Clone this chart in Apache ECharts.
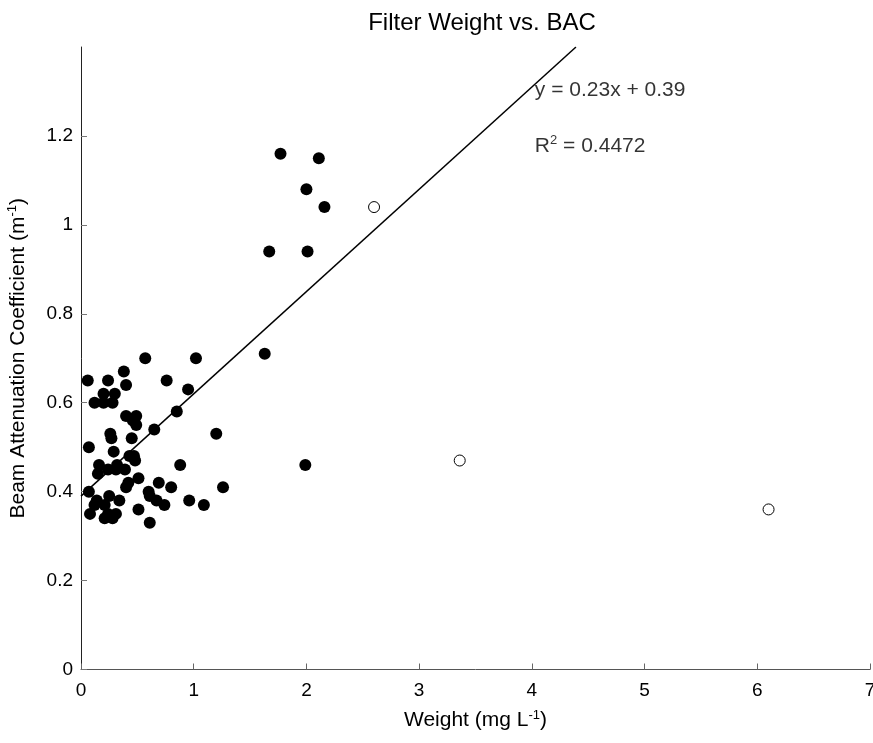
<!DOCTYPE html>
<html>
<head>
<meta charset="utf-8">
<script src="https://cdn.jsdelivr.net/npm/echarts@6/dist/echarts.min.js"></script>
<style>
  html, body { margin: 0; padding: 0; background: #fff; }
  #chart { width: 873px; height: 743px; }
</style>
</head>
<body>
<div id="chart"></div>
<script>
// Filter weight (mg/L) and beam attenuation coefficient (1/m), samples used in the fit
const weight = [
  1.77, 2.11, 2.00, 2.16, 1.67, 2.01, 1.63, 1.99,
  0.57, 1.02, 0.38, 0.06, 0.24, 0.76, 0.40, 0.95,
  0.20, 0.30, 0.12, 0.20, 0.28,
  0.40, 0.49, 0.46, 0.49, 0.85, 0.65,
  0.26, 0.27, 0.45, 1.20, 0.07, 0.29,
  0.43, 0.47, 0.48, 0.16, 0.15, 0.24, 0.32, 0.31, 0.39, 0.88,
  0.51, 0.42, 0.40, 0.69, 0.80, 1.26,
  0.07, 0.25, 0.60, 0.61, 0.14, 0.12, 0.21, 0.34, 0.67, 0.74, 0.96, 1.09,
  0.08, 0.21, 0.24, 0.31, 0.28, 0.51, 0.61
];
const bac = [
  1.16, 1.15, 1.08, 1.04, 0.94, 0.94, 0.71, 0.46,
  0.70, 0.70, 0.67, 0.65, 0.65, 0.65, 0.64, 0.63,
  0.62, 0.62, 0.60, 0.60, 0.60,
  0.57, 0.57, 0.56, 0.55, 0.58, 0.54,
  0.53, 0.52, 0.52, 0.53, 0.50, 0.49,
  0.48, 0.48, 0.47, 0.46, 0.44, 0.45, 0.46, 0.45, 0.45, 0.46,
  0.43, 0.42, 0.41, 0.42, 0.41, 0.41,
  0.40, 0.39, 0.40, 0.39, 0.38, 0.37, 0.37, 0.38, 0.38, 0.37, 0.38, 0.37,
  0.35, 0.34, 0.35, 0.35, 0.34, 0.36, 0.33
];

// Samples excluded from the regression (open circles)
const excludedWeight = [2.60, 3.36, 6.10];
const excludedBac = [1.04, 0.47, 0.36];

// Linear fit y = a x + b
const fitSlope = 0.23;
const fitIntercept = 0.39;
const fitR2 = 0.4472;

const xTicks = [0, 1, 2, 3, 4, 5, 6, 7];
const yTicks = [0, 0.2, 0.4, 0.6, 0.8, 1, 1.2];
const yMax = 1.4;

const chart = echarts.init(document.getElementById('chart'));

const font = 'Liberation Sans, Arial, Helvetica, sans-serif';
const tickFs = 19;
const labelFs = 21;
const supStyle = { fontFamily: font, fontSize: 13, color: '#000', lineHeight: 11, verticalAlign: 'top' };
const mainStyle = { fontFamily: font, fontSize: labelFs, color: '#000', lineHeight: 24 };

const fitEndX = (yMax - fitIntercept) / fitSlope;

chart.setOption({
  animation: false,
  backgroundColor: '#fff',
  title: {
    text: 'Filter Weight vs. BAC',
    left: 477,
    textAlign: 'center',
    top: 6,
    textStyle: { fontFamily: font, fontSize: 24, fontWeight: 'normal', color: '#000' }
  },
  grid: { left: 81, right: 3, top: 47, bottom: 73.5, containLabel: false, outerBoundsMode: 'none' },
  xAxis: {
    type: 'value',
    min: 0, max: 7, interval: 1,
    name: '{a|Weight (mg L}{s|-1}{a|)}',
    nameLocation: 'middle',
    nameGap: 39,
    nameTextStyle: { rich: { a: mainStyle, s: supStyle } },
    axisLine: { show: true, onZero: false, lineStyle: { color: '#555', width: 1 } },
    axisTick: { show: true, inside: true, length: 6, lineStyle: { color: '#666' } },
    axisLabel: { fontFamily: font, fontSize: tickFs, color: '#000', margin: 12,
      customValues: xTicks, formatter: v => String(v) },
    splitLine: { show: false }
  },
  yAxis: {
    type: 'value',
    min: 0, max: yMax, interval: 0.2,
    name: '{a|Beam Attenuation Coefficient (m}{s|-1}{a|)}',
    nameLocation: 'middle',
    nameGap: 51,
    nameRotate: 90,
    nameTextStyle: { rich: { a: mainStyle, s: supStyle } },
    axisLine: { show: true, onZero: false, lineStyle: { color: '#222', width: 1 } },
    axisTick: { show: true, inside: true, length: 6, lineStyle: { color: '#777' }, customValues: yTicks },
    axisLabel: { fontFamily: font, fontSize: tickFs, color: '#000', margin: 8,
      customValues: yTicks, formatter: v => String(Math.round(v * 10) / 10) },
    splitLine: { show: false }
  },
  series: [
    {
      type: 'line',
      data: [[0, fitIntercept], [fitEndX, fitSlope * fitEndX + fitIntercept]],
      symbol: 'none',
      lineStyle: { color: '#000', width: 1.5 },
      clip: true,
      z: 1
    },
    {
      type: 'scatter',
      data: weight.map((w, i) => [w, bac[i]]),
      symbol: 'circle',
      symbolSize: 12,
      itemStyle: { color: '#000', opacity: 1 },
      z: 3
    },
    {
      type: 'scatter',
      data: excludedWeight.map((w, i) => [w, excludedBac[i]]),
      symbol: 'circle',
      symbolSize: 11,
      itemStyle: { color: '#fff', borderColor: '#000', borderWidth: 1, opacity: 1 },
      z: 3
    },
    {
      type: 'scatter',
      silent: true,
      symbolSize: 0,
      data: [
        { value: [4.0, 1.302], label: { formatter: '{a|y = ' + fitSlope + 'x + ' + fitIntercept + '}' } },
        { value: [4.0, 1.178], label: { formatter: '{a|R}{s|2}{a| = ' + fitR2 + '}' } }
      ],
      label: {
        show: true,
        position: 'right',
        distance: 3,
        rich: { a: mainStyle, s: supStyle }
      },
      z: 4
    }
  ]
});
</script>
</body>
</html>
